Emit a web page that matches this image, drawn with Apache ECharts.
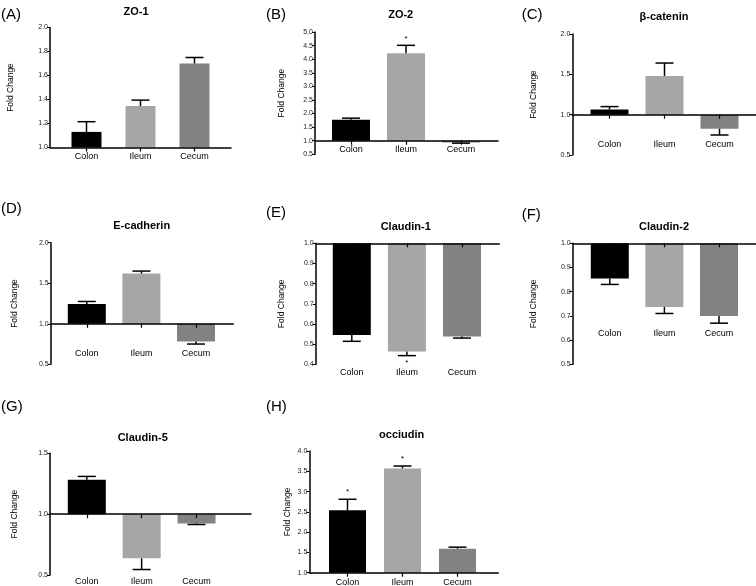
<!DOCTYPE html>
<html>
<head>
<meta charset="utf-8">
<script src="https://cdn.jsdelivr.net/npm/echarts@6/dist/echarts.min.js"></script>
<style>
html, body { margin: 0; padding: 0; background: #fff; }
#main { width: 756px; height: 586px; }
</style>
</head>
<body>
<div id="main"></div>
<script>
var categories = ['Colon', 'Ileum', 'Cecum'];
var barColors = ['#000000', '#a6a6a6', '#828282'];

// fold change (mean), error bar length (SEM) and significance marks
var zo1Mean = [1.13, 1.345, 1.70];
var zo1Sem = [0.085, 0.05, 0.05];
var zo1Sig = ['', '', ''];

var zo2Mean = [1.77, 4.22, 0.93];
var zo2Sem = [0.06, 0.29, 0.02];
var zo2Sig = ['', '*', ''];

var ctnMean = [1.065, 1.48, 0.825];
var ctnSem = [0.035, 0.16, 0.077];
var ctnSig = ['', '', ''];

var ecadMean = [1.245, 1.62, 0.78];
var ecadSem = [0.03, 0.03, 0.03];
var ecadSig = ['', '', ''];

var cld1Mean = [0.545, 0.463, 0.538];
var cld1Sem = [0.031, 0.02, 0.008];
var cld1Sig = ['', '*', ''];

var cld2Mean = [0.855, 0.737, 0.70];
var cld2Sem = [0.025, 0.027, 0.03];
var cld2Sig = ['', '', ''];

var cld5Mean = [1.282, 0.637, 0.924];
var cld5Sem = [0.028, 0.092, 0.009];
var cld5Sig = ['', '', ''];

var occMean = [2.54, 3.57, 1.59];
var occSem = [0.27, 0.06, 0.04];
var occSig = ['*', '*', ''];

// y axis ranges [min, max, step] in fold change
var zo1Range = [1.0, 2.0, 0.2];
var zo2Range = [0.5, 5.0, 0.5];
var ctnRange = [0.5, 2.0, 0.5];
var ecadRange = [0.5, 2.0, 0.5];
var cld1Range = [0.4, 1.0, 0.1];
var cld2Range = [0.5, 1.0, 0.1];
var cld5Range = [0.5, 1.5, 0.5];
var occRange = [1.0, 4.0, 0.5];

var font = '"Liberation Sans", Arial, sans-serif';

var panels = [
    {letter: '(A)', title: 'ZO-1', mean: zo1Mean, sem: zo1Sem, sig: zo1Sig, range: zo1Range,
        box: {left: 50, right: 231, top: 27.5, bottom: 147.5, c0: 86.5, step: 54, barWidth: 30, labelY: 157, nameX: 10, titleAt: [136, 12], letterAt: [1, 15]}},
    {letter: '(B)', title: 'ZO-2', mean: zo2Mean, sem: zo2Sem, sig: zo2Sig, range: zo2Range,
        box: {left: 315, right: 498, top: 32, bottom: 154.3, c0: 351, step: 55, barWidth: 38, labelY: 149.7, nameX: 280.7, titleAt: [400.7, 15.3], letterAt: [266, 15]}},
    {letter: '(C)', title: 'β-catenin', mean: ctnMean, sem: ctnSem, sig: ctnSig, range: ctnRange,
        box: {left: 572.3, right: 756, top: 34, bottom: 155, c0: 609.5, step: 55, barWidth: 38, labelY: 145.3, nameX: 532.7, titleAt: [664, 16.7], letterAt: [521.7, 15]}},
    {letter: '(D)', title: 'E-cadherin', mean: ecadMean, sem: ecadSem, sig: ecadSig, range: ecadRange,
        box: {left: 50.7, right: 233.3, top: 242.7, bottom: 364.3, c0: 86.8, step: 54.6, barWidth: 38, labelY: 354.3, nameX: 14, titleAt: [141.7, 226], letterAt: [1, 209]}},
    {letter: '(E)', title: 'Claudin-1', mean: cld1Mean, sem: cld1Sem, sig: cld1Sig, range: cld1Range,
        box: {left: 315.7, right: 499.3, top: 243.3, bottom: 364.3, c0: 351.8, step: 55.1, barWidth: 38, labelY: 372.7, nameX: 280.7, titleAt: [405.7, 227.3], letterAt: [266, 213.3]}},
    {letter: '(F)', title: 'Claudin-2', mean: cld2Mean, sem: cld2Sem, sig: cld2Sig, range: cld2Range,
        box: {left: 572.7, right: 756, top: 243.3, bottom: 364.3, c0: 609.8, step: 54.6, barWidth: 38, labelY: 334.3, nameX: 532.7, titleAt: [664, 226.7], letterAt: [521.7, 215]}},
    {letter: '(G)', title: 'Claudin-5', mean: cld5Mean, sem: cld5Sem, sig: cld5Sig, range: cld5Range,
        box: {left: 50, right: 251, top: 453.3, bottom: 575, c0: 86.8, step: 54.85, barWidth: 38, labelY: 581.7, nameX: 14, titleAt: [142.7, 437.7], letterAt: [1, 406.7]}},
    {letter: '(H)', title: 'occiudin', mean: occMean, sem: occSem, sig: occSig, range: occRange,
        box: {left: 309.3, right: 498.3, top: 451, bottom: 572.7, c0: 347.5, step: 55, barWidth: 37, labelY: 582.7, nameX: 287.3, titleAt: [401.7, 435], letterAt: [266, 406.7]}}
];

var grids = [], xAxes = [], yAxes = [], series = [], graphics = [];

panels.forEach(function (p, k) {
    var b = p.box;
    var w = b.right - b.left;
    var xMin = -(b.c0 - b.left) / b.step;
    var xMax = xMin + w / b.step;

    grids.push({left: b.left, top: b.top, width: w, height: b.bottom - b.top, containLabel: false, outerBoundsMode: 'none'});

    // baseline at fold change 1.0 (0 after the shift)
    xAxes.push({
        type: 'value', gridIndex: k, min: xMin, max: xMax, position: 'bottom', z: 5,
        axisLine: {show: true, onZero: true, lineStyle: {color: '#000', width: 1.5}},
        axisTick: {show: true, customValues: [0, 1, 2], length: 4, lineStyle: {color: '#000', width: 1.2}},
        axisLabel: {show: false},
        splitLine: {show: false}
    });
    // category names
    xAxes.push({
        type: 'value', gridIndex: k, min: xMin, max: xMax, position: 'bottom',
        offset: b.labelY - 5 - b.bottom,
        axisLine: {show: false, onZero: false},
        axisTick: {show: false},
        splitLine: {show: false},
        axisLabel: {
            customValues: [0, 1, 2], margin: 0, fontSize: 9, color: '#000', fontFamily: font,
            formatter: function (v) { return categories[Math.round(v)]; }
        }
    });
    yAxes.push({
        type: 'value', gridIndex: k, position: 'left',
        min: p.range[0] - 1, max: p.range[1] - 1, interval: p.range[2],
        name: 'Fold Change', nameLocation: 'middle', nameRotate: 90, nameGap: b.left - b.nameX - 5,
        nameTextStyle: {fontSize: 8.5, color: '#000', fontFamily: font},
        axisLine: {show: true, onZero: false, lineStyle: {color: '#000', width: 1.5}},
        axisTick: {show: true, length: 3, lineStyle: {color: '#000'}},
        axisLabel: {
            fontSize: 7, margin: 2, color: '#222', fontFamily: font,
            formatter: function (v) { return (v + 1).toFixed(1); }
        },
        splitLine: {show: false}
    });

    series.push({
        type: 'bar', xAxisIndex: 2 * k, yAxisIndex: k, barWidth: b.barWidth, silent: true,
        data: p.mean.map(function (m, i) {
            return {value: [i, m - 1], itemStyle: {color: barColors[i]}};
        })
    });

    series.push({
        type: 'custom', xAxisIndex: 2 * k, yAxisIndex: k, clip: false, silent: true, z: 4,
        data: p.mean.map(function (m, i) {
            var dir = m >= 1 ? 1 : -1;
            return [i, m - 1, m - 1 + dir * p.sem[i]];
        }),
        renderItem: function (params, api) {
            var base = api.coord([api.value(0), api.value(1)]);
            var end = api.coord([api.value(0), api.value(2)]);
            var dir = end[1] < base[1] ? -1 : 1;
            var st = {stroke: '#000', lineWidth: 1.5};
            var children = [
                {type: 'line', shape: {x1: base[0], y1: base[1], x2: end[0], y2: end[1]}, style: st},
                {type: 'line', shape: {x1: end[0] - 9, y1: end[1], x2: end[0] + 9, y2: end[1]}, style: st}
            ];
            var mark = p.sig[params.dataIndex];
            if (mark) {
                children.push({
                    type: 'text', x: end[0], y: end[1] + dir * 7,
                    style: {text: mark, fontSize: 8, fontFamily: font, fill: '#000',
                        align: 'center', verticalAlign: 'middle', textAlign: 'center', textVerticalAlign: 'middle'}
                });
            }
            return {type: 'group', children: children};
        }
    });

    graphics.push({
        type: 'text', x: b.titleAt[0], y: b.titleAt[1],
        style: {text: p.title, fontSize: 11, fontWeight: 'bold', fontFamily: font, fill: '#000',
            align: 'center', verticalAlign: 'middle', textAlign: 'center', textVerticalAlign: 'middle'}
    });
    graphics.push({
        type: 'text', x: b.letterAt[0], y: b.letterAt[1],
        style: {text: p.letter, fontSize: 15, fontFamily: font, fill: '#000',
            align: 'left', verticalAlign: 'middle', textAlign: 'left', textVerticalAlign: 'middle'}
    });
});

var chart = echarts.init(document.getElementById('main'), null, {renderer: 'canvas'});
chart.setOption({
    backgroundColor: '#fff',
    animation: false,
    textStyle: {fontFamily: font},
    grid: grids,
    xAxis: xAxes,
    yAxis: yAxes,
    series: series,
    graphic: graphics
});
</script>
</body>
</html>
